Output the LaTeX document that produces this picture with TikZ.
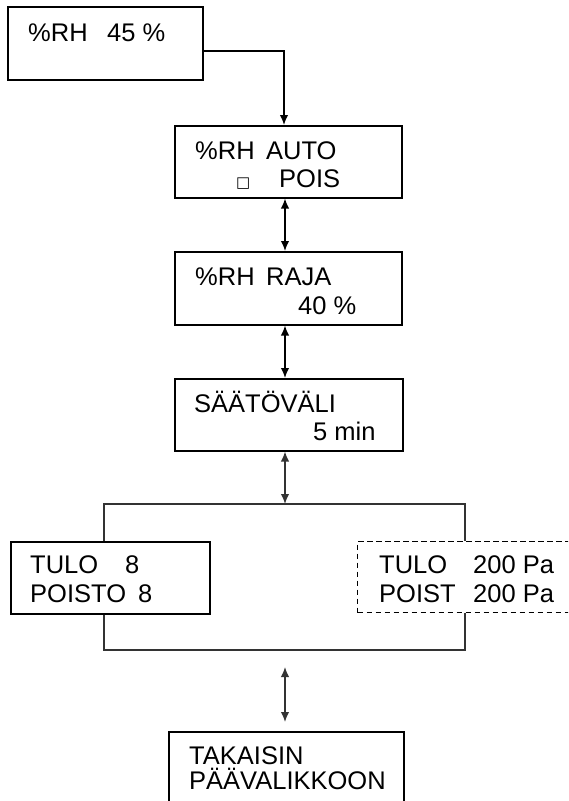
\documentclass[tikz,border=0pt]{standalone}
\usepackage{fontspec}
\setmainfont{Liberation Sans}
\newfontfamily\dejavu{DejaVu Sans}
\usetikzlibrary{arrows.meta}
\definecolor{darkline}{HTML}{333333}
\tikzset{
  box/.style={draw=black, line width=1.5pt, rectangle, inner sep=0pt, anchor=north west},
  dbox/.style={box, dash pattern=on 5.5pt off 3.5pt, line width=1.2pt},
  txt/.style={inner sep=0pt, anchor=base west, font=\fontsize{25.5pt}{30pt}\selectfont},
  conn/.style={line width=1.5pt, draw=black},
  dconn/.style={line width=1.4pt, draw=darkline},
  tip/.style={-{Latex[length=10pt,width=8.5pt]}},
  dtip/.style={{Latex[length=10pt,width=8.5pt]}-{Latex[length=10pt,width=8.5pt]}}
}
\begin{document}
\begin{tikzpicture}[x=1pt,y=-1pt]
\useasboundingbox[fill=white] (0,0) rectangle (568,801);
\begin{scope}
\clip (0,0) rectangle (568,801);
% boxes
\node[box, minimum width=195pt, minimum height=73pt] (b1) at (7,6) {};
\node[box, minimum width=227pt, minimum height=72pt] (b2) at (174,125) {};
\node[box, minimum width=227pt, minimum height=73pt] (b3) at (174,251) {};
\node[box, minimum width=228pt, minimum height=72pt] (b4) at (174,378) {};
\node[box, minimum width=199pt, minimum height=72pt] (b5) at (10,541) {};
\node[dbox, minimum width=260pt, minimum height=71pt] (b6) at (357,541) {};
\node[box, minimum width=235pt, minimum height=120pt] (b7) at (168,731) {};
% texts
\node[txt] (t1) at (28,41) {\makebox[79pt][l]{\%RH}45 \%};
\node[txt] (t2a) at (195,159) {\makebox[71pt][l]{\%RH}AUTO};
\node[txt] (t2b) at (236,187) {\makebox[43pt][l]{{\dejavu\fontsize{15pt}{18pt}\selectfont □}}POIS};
\node[txt] (t3a) at (195,285) {\makebox[71pt][l]{\%RH}RAJA};
\node[txt] (t3b) at (298,314) {40 \%};
\node[txt] (t4a) at (194,412) {SÄÄTÖVÄLI};
\node[txt] (t4b) at (313,440) {5 min};
\node[txt] (t5a) at (30,573) {\makebox[95pt][l]{TULO}8};
\node[txt] (t5b) at (30,602) {\makebox[108pt][l]{POISTO}8};
\node[txt] (t6a) at (379,573) {\makebox[94pt][l]{TULO}200 Pa};
\node[txt] (t6b) at (379,602) {\makebox[94pt][l]{POIST}200 Pa};
\node[txt] (t7a) at (189,764) {TAKAISIN};
\node[txt] (t7b) at (189,789) {PÄÄVALIKKOON};
% coordinates
\coordinate (c1) at (284,51);
\coordinate (bt) at (285,504);
\coordinate (bl) at (104,504);
\coordinate (br) at (465,504);
\coordinate (bbl) at (104,650);
\coordinate (bbr) at (465,650);
\coordinate (a1) at (285,667);
\coordinate (a2) at (285,722);
% connectors
\draw[conn, tip] (b1.east |- c1) -- (c1) -- (c1 |- b2.north);
\draw[conn, dtip] (b2.south -| bt) -- (b3.north -| bt);
\draw[conn, dtip] (b3.south -| bt) -- (b4.north -| bt);
\draw[dconn, dtip] (b4.south -| bt) -- (bt);
\draw[dconn] (bl |- b5.north) -- (bl) -- (br) -- (br |- b6.north);
\draw[dconn] (bbl |- b5.south) -- (bbl) -- (bbr) -- (bbr |- b6.south);
\draw[dconn, dtip] (a1) -- (a2);
\end{scope}
\end{tikzpicture}
\end{document}
